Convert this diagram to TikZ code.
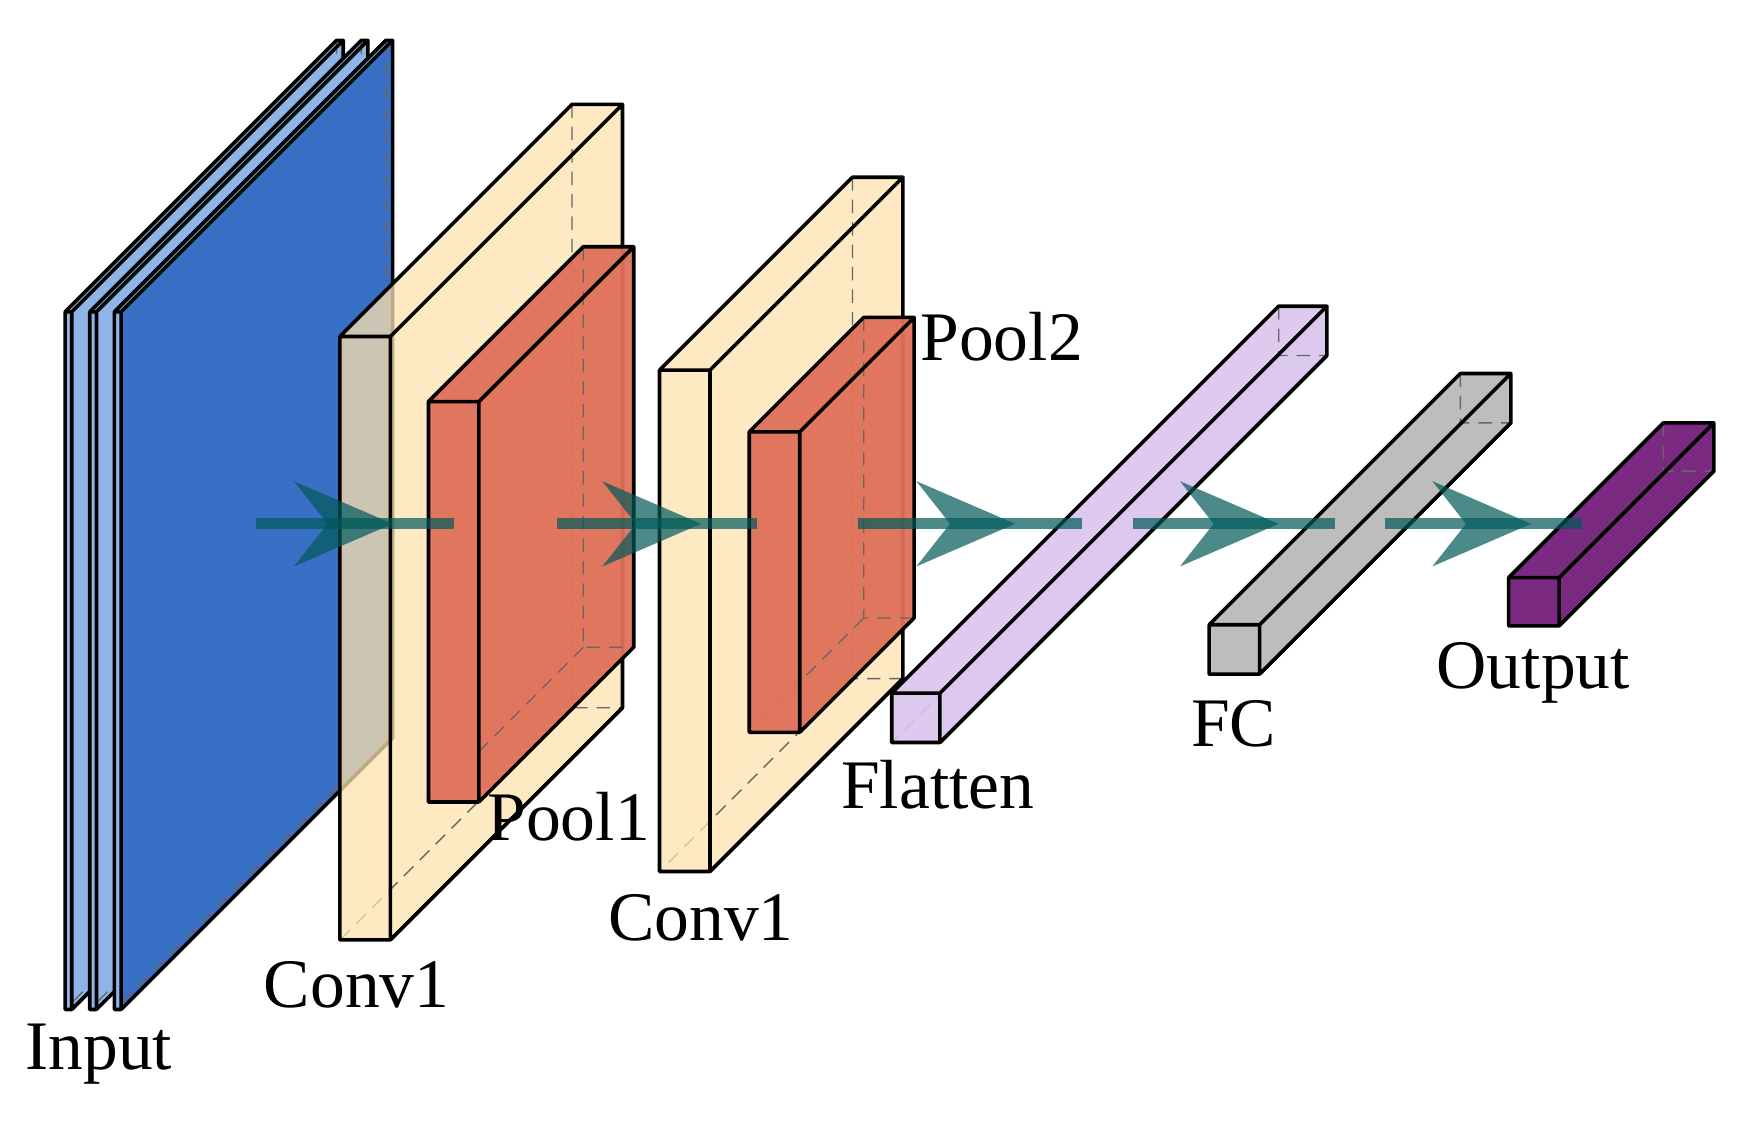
\documentclass[tikz,border=0pt]{standalone}
\usepackage{fontspec}
\setmainfont{Liberation Serif}
\begin{document}
\newcommand\cnnbox[8]{% x ytop w h d frontfill sidefill opacity
  \pgfmathsetmacro\xa{#1}\pgfmathsetmacro\ya{#2}
  \pgfmathsetmacro\xb{#1+#3}\pgfmathsetmacro\yb{#2+#4}
  \pgfmathsetmacro\xc{#1+#5}\pgfmathsetmacro\yc{#2-#5}
  \pgfmathsetmacro\xd{#1+#3+#5}\pgfmathsetmacro\yd{#2+#4-#5}
  \fill[#7,fill opacity=#8] (\xb,\ya)--(\xd,\yc)--(\xd,\yd)--(\xb,\yb)--cycle;
  \fill[#6,fill opacity=#8] (\xa,\ya)--(\xc,\yc)--(\xd,\yc)--(\xb,\ya)--cycle;
  \draw[hid] (\xc,\yc)--(\xc,\yd)--(\xd,\yd) (\xc,\yd)--(\xa,\yb);
  \fill[#6,fill opacity=#8] (\xa,\ya) rectangle (\xb,\yb);
  \draw[edge] (\xa,\ya) rectangle (\xb,\yb) (\xa,\ya)--(\xc,\yc)--(\xd,\yc)--(\xb,\ya)
     (\xd,\yc)--(\xd,\yd)--(\xb,\yb);
}
\begin{tikzpicture}[x=0.5pt,y=-0.5pt,
  edge/.style={line width=1.6pt,black,line join=round},
  hid/.style={line width=0.6pt,dash pattern=on 6pt off 4pt,black!60},
  lab/.style={font=\fontsize{31}{31}\selectfont,inner sep=0pt},
  arr/.style={line width=5pt,teal!70!black,opacity=0.7},
  head/.style={fill=teal!70!black,opacity=0.7}]
\useasboundingbox (0,0) rectangle (1562,1000);
\definecolor{lblue}{HTML}{8FB4E8}
\definecolor{dblue}{HTML}{3A6FC6}
\definecolor{yel}{HTML}{FDE3AE}
\definecolor{redc}{HTML}{E0705A}
\definecolor{lpur}{HTML}{D9C3EC}
\definecolor{gry}{HTML}{BDBDBD}
\definecolor{dpur}{HTML}{7B2A82}
% input
\cnnbox{58}{278}{6}{622}{242}{fill=lblue}{fill=lblue}{1}
\cnnbox{80}{278}{6}{622}{242}{fill=lblue}{fill=lblue}{1}
\cnnbox{102}{278}{6}{622}{242}{fill=lblue}{fill=dblue}{1}
% conv1
\cnnbox{303}{300}{45}{538}{207}{fill=yel}{fill=yel}{0.75}
\cnnbox{382}{358}{45}{357}{138}{fill=redc}{fill=redc}{0.95}
% conv2
\cnnbox{588}{330}{45}{447}{172}{fill=yel}{fill=yel}{0.75}
\cnnbox{668}{385}{45}{268}{102}{fill=redc}{fill=redc}{0.95}
% dense
\cnnbox{795}{618}{43}{44}{345}{fill=lpur}{fill=lpur}{0.9}
\cnnbox{1078}{557}{45}{44}{224}{fill=gry}{fill=gry}{1}
\cnnbox{1345}{515}{45}{43}{138}{fill=dpur}{fill=dpur}{1}
% arrows
\foreach \i/\a/\b/\t in {1/228/405/350, 2/497/675/625, 3/765/965/905, 4/1010/1190/1140, 5/1235/1410/1365}{
  \coordinate (s\i) at (\a,467); \coordinate (e\i) at (\b,467); \coordinate (t\i) at (\t,467);
  \draw[arr] (s\i)--(e\i);
  \fill[head] (t\i) -- ++(-88,-38) -- ++(30,38) -- ++(-30,38) -- cycle;
}
% labels
\node[lab] (lin) at (88,940) {Input};
\node[lab] (lc1) at (318,878) {Conv1};
\node[lab] (lp1) at (507,728) {Pool1};
\node[lab] (lc2) at (625,818) {Conv1};
\node[lab] (lp2) at (893,300) {Pool2};
\node[lab] (lfl) at (836,700) {Flatten};
\node[lab] (lfc) at (1100,645) {FC};
\node[lab] (lout) at (1367,600) {Output};
\end{tikzpicture}
\end{document}
